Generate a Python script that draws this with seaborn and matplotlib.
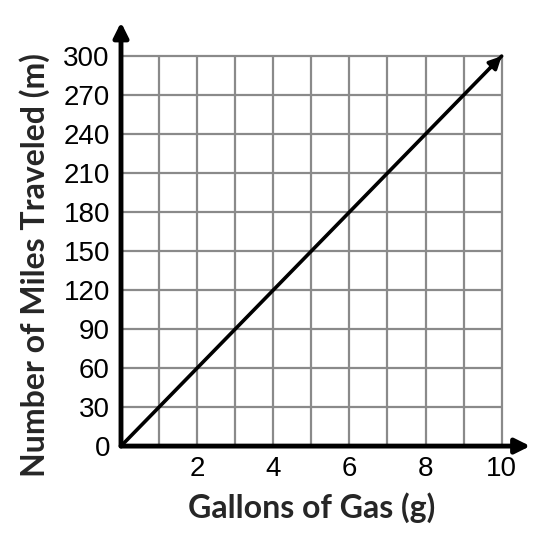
import numpy as np
import pandas as pd
import matplotlib
matplotlib.use('Agg')
import matplotlib.pyplot as plt
import seaborn as sns

# data
gallons = [0, 10]
miles = [0, 300]
x_ticks = [2, 4, 6, 8, 10]
y_ticks = [0, 30, 60, 90, 120, 150, 180, 210, 240, 270, 300]
x_grid = [1, 2, 3, 4, 5, 6, 7, 8, 9, 10]

sns.set_style('white')
plt.rcParams['font.family'] = ['Liberation Sans', 'DejaVu Sans']

fig = plt.figure(figsize=(5.5, 5.44), dpi=100)
ax = fig.add_axes([0.22, 0.18, 0.744, 0.779])

xmax, ymax = 10.75, 326

# grid squares
ax.vlines(x_grid, 0, max(y_ticks), color='#8a8a8a', lw=1.6, zorder=1)
ax.hlines(y_ticks[1:], 0, max(x_grid), color='#8a8a8a', lw=1.6, zorder=1)

df = pd.DataFrame({'g': gallons, 'm': miles})
sns.lineplot(data=df, x='g', y='m', color='black', lw=2.6, ax=ax, zorder=3)
# arrowhead on the line
ax.annotate('', xy=(gallons[-1], miles[-1]),
            xytext=(gallons[-1] - 0.3, miles[-1] - 9),
            arrowprops=dict(arrowstyle='-|>', color='black', lw=2.6,
                            mutation_scale=18, shrinkA=0, shrinkB=0), zorder=4)

# axes with arrows
ax.annotate('', xy=(xmax, 0), xytext=(0, 0),
            arrowprops=dict(arrowstyle='-|>', color='black', lw=3.5,
                            mutation_scale=22, shrinkA=0, shrinkB=0),
            annotation_clip=False, zorder=5)
ax.annotate('', xy=(0, ymax), xytext=(0, 0),
            arrowprops=dict(arrowstyle='-|>', color='black', lw=3.5,
                            mutation_scale=22, shrinkA=0, shrinkB=0),
            annotation_clip=False, zorder=5)

ax.set_xlim(0, xmax)
ax.set_ylim(0, ymax)
ax.set_xticks(x_ticks)
ax.set_yticks(y_ticks)
ax.tick_params(axis='both', length=0, labelsize=20, colors='black')
ax.tick_params(axis='x', pad=7)
ax.tick_params(axis='y', pad=8)
for lbl in ax.get_yticklabels():
    lbl.set_va('center_baseline')
for s in ax.spines.values():
    s.set_visible(False)

lab_font = dict(family=['Lato', 'DejaVu Sans'], fontsize=23, fontweight='bold')
ax.set_xlabel('Gallons of Gas (g)', **lab_font)
ax.set_ylabel('Number of Miles Traveled (m)', **lab_font)
ax.xaxis.set_label_coords(0.465, -0.146)
ax.yaxis.set_label_coords(-0.21, 0.427)
ax.xaxis.label.set_va('center')
ax.yaxis.label.set_va('center')

fig.savefig('out.png', dpi=100)
